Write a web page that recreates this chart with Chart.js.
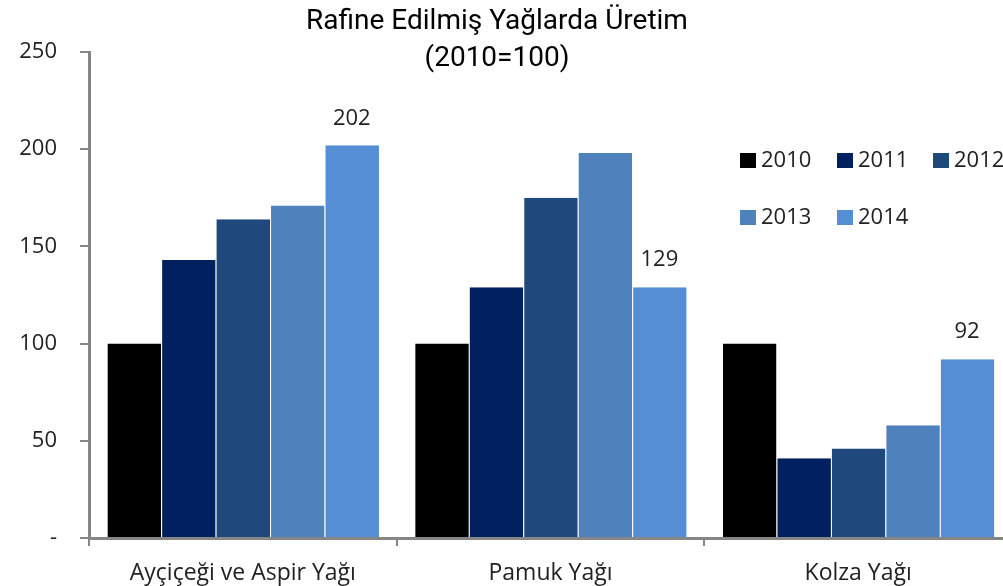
<!DOCTYPE html>
<html>
<head>
<meta charset="utf-8">
<script src="https://cdn.jsdelivr.net/npm/chart.js@4.4.0/dist/chart.umd.min.js"></script>
<style>
    body { margin: 0; overflow: hidden; background: #ffffff; }
    #kutu { width: 1013px; height: 586px; }
</style>
</head>
<body>
<div id="kutu"><canvas id="grafik" width="1013" height="586"></canvas></div>
<script>
let kategoriler = ['Ayçiçeği ve Aspir Yağı', 'Pamuk Yağı', 'Kolza Yağı'];
let yillar = ['2010', '2011', '2012', '2013', '2014'];
let deger2010 = [100, 100, 100];
let deger2011 = [143, 129, 41];
let deger2012 = [164, 175, 46];
let deger2013 = [171, 198, 58];
let deger2014 = [202, 129, 92];
let renkler = ['#000000', '#002060', '#1f497d', '#4f81bd', '#558ed5'];
let yTikler = [0, 50, 100, 150, 200, 250];

let seriler = [deger2010, deger2011, deger2012, deger2013, deger2014];
let datasets = [];
for (let i = 0; i < seriler.length; i++) {
    datasets.push({
        label: yillar[i],
        data: seriler[i],
        backgroundColor: renkler[i],
        borderColor: 'rgba(255,255,255,0.15)',
        borderWidth: { left: 1, right: 0, top: 0, bottom: 0 },
        borderSkipped: 'bottom',
        categoryPercentage: 0.885,
        barPercentage: 1
    });
}

// baslik, lejant ve son serinin etiketleri
let ciziciler = {
    id: 'ciziciler',
    afterDraw(chart) {
        let ctx = chart.ctx;
        ctx.save();
        ctx.fillStyle = '#000000';
        ctx.textAlign = 'center';
        ctx.textBaseline = 'middle';
        ctx.font = '28px Roboto';
        ctx.fillText('Rafine Edilmiş Yağlarda Üretim', 497, 22);
        ctx.fillText('(2010=100)', 497, 59);

        // 2014 etiketleri
        ctx.font = '22px "Open Sans"';
        ctx.fillStyle = '#222222';
        let meta = chart.getDatasetMeta(4);
        meta.data.forEach(function (bar, i) {
            ctx.fillText(String(deger2014[i]), bar.x, bar.y - 27);
        });

        // lejant
        let konumlar = [[740, 160], [837, 160], [933, 160], [740, 217], [837, 217]];
        ctx.textAlign = 'left';
        for (let i = 0; i < yillar.length; i++) {
            ctx.fillStyle = renkler[i];
            ctx.fillRect(konumlar[i][0], konumlar[i][1] - 7, 16, 15);
            ctx.fillStyle = '#222222';
            ctx.fillText(yillar[i], konumlar[i][0] + 21, konumlar[i][1] + 1);
        }
        ctx.restore();
    }
};

function ciz() {
    new Chart(document.getElementById('grafik'), {
        type: 'bar',
        data: { labels: kategoriler, datasets: datasets },
        options: {
            responsive: false,
            animation: false,
            layout: { padding: { top: 52, right: 1, left: 0, bottom: 0 } },
            plugins: {
                legend: { display: false },
                title: { display: false },
                tooltip: { enabled: false }
            },
            scales: {
                x: {
                    afterFit(scale) { scale.height = 48; },
                    border: { color: '#868686', width: 3 },
                    grid: { offset: true, drawOnChartArea: false, color: '#868686', lineWidth: 2, tickLength: 8 },
                    ticks: { color: '#222222', font: { family: 'Open Sans', size: 23 }, padding: 14 }
                },
                y: {
                    min: 0,
                    max: 250,
                    afterFit(scale) { scale.width = 89; },
                    afterBuildTicks(scale) { scale.ticks = yTikler.map(v => ({ value: v })); },
                    border: { color: '#868686', width: 3 },
                    grid: { drawOnChartArea: false, color: '#868686', lineWidth: 2, tickLength: 9 },
                    ticks: {
                        color: '#222222',
                        font: { family: 'Open Sans', size: 22 },
                        padding: 23,
                        callback: function (v) { return v === 0 ? '-' : v; }
                    }
                }
            }
        },
        plugins: [ciziciler]
    });
}

Promise.all([
    document.fonts.load('22px "Open Sans"'),
    document.fonts.load('28px Roboto')
]).then(ciz, ciz);
</script>
</body>
</html>
